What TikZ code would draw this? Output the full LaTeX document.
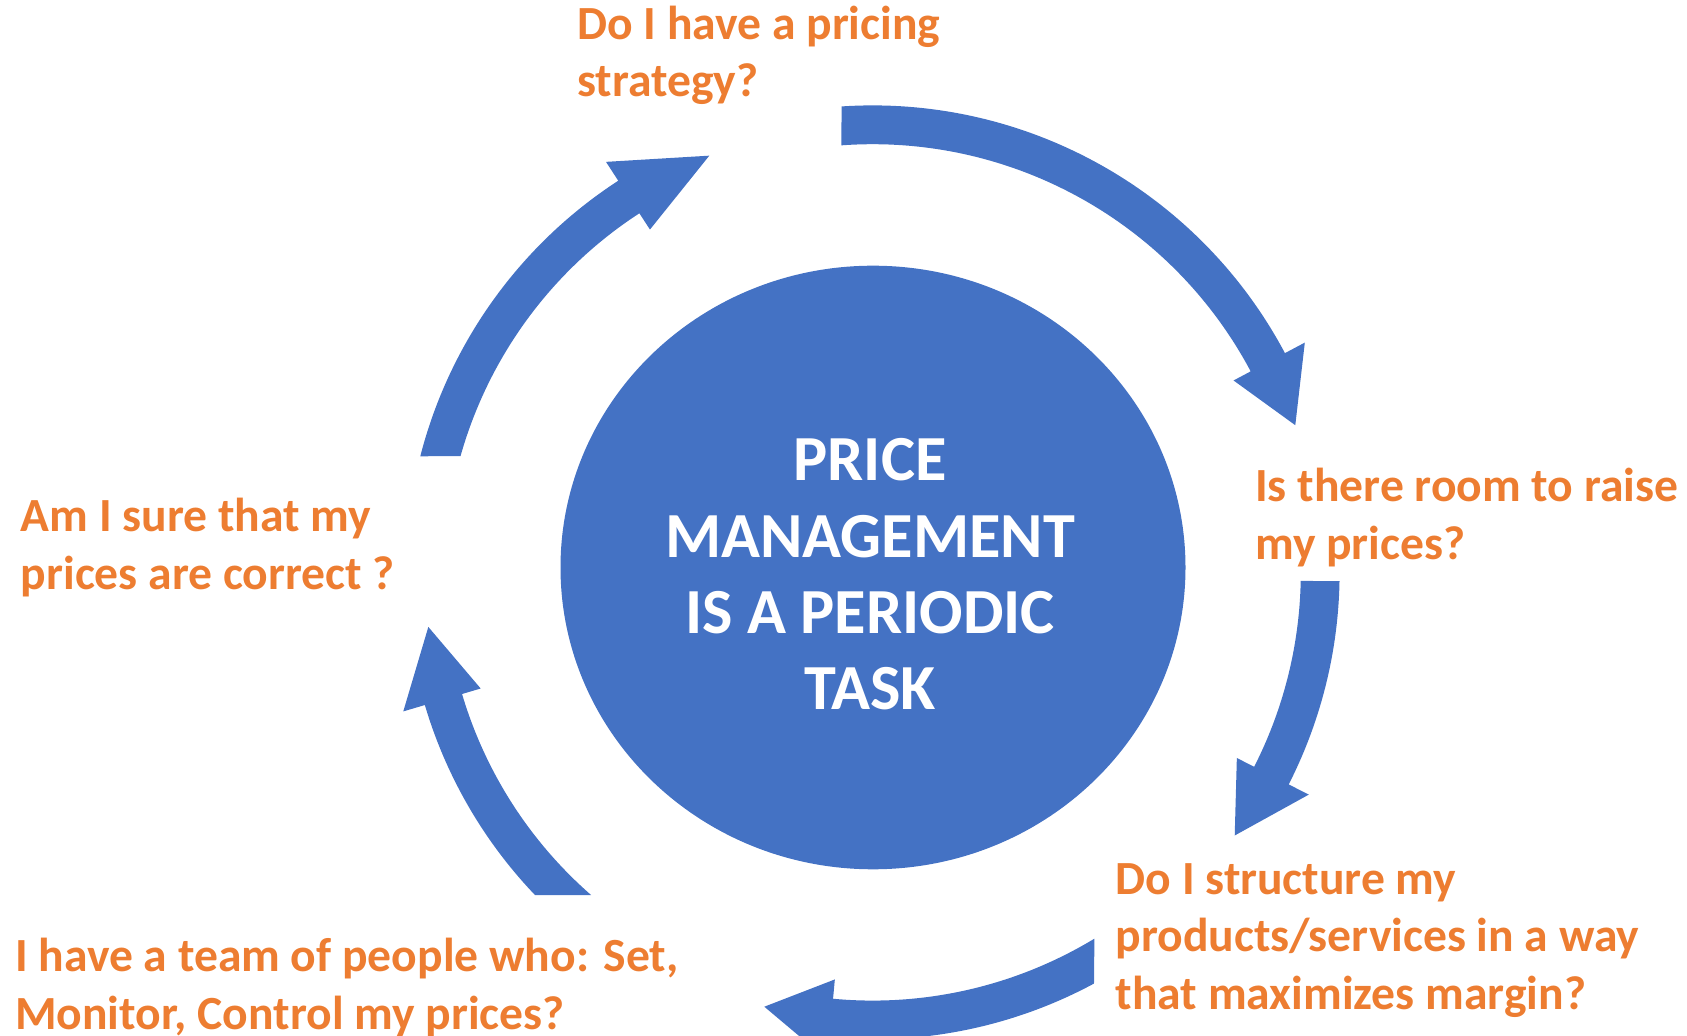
\documentclass[tikz,border=0pt]{standalone}
\usepackage{fontspec}
\setmainfont{Carlito}
\usetikzlibrary{shapes.geometric}
\definecolor{cycleblue}{HTML}{4472C4}
\definecolor{askorange}{HTML}{ED7D31}

\tikzset{
  question/.style={anchor=base west, inner sep=0pt, align=left, text=askorange,
    font=\fontsize{47.6}{57.4}\selectfont\bfseries},
  cyclearrow/.style={fill=cycleblue},
  hub/.style={ellipse, fill=cycleblue, minimum width=625pt, minimum height=603.6pt, inner sep=0pt},
  hubtext/.style={anchor=base, inner sep=0pt, align=center, text=white,
    font=\fontsize{64.3}{76.3}\selectfont\bfseries}
}

\begin{document}
\begin{tikzpicture}[x=1pt,y=1pt]
\useasboundingbox (0,0) rectangle (1687,1036);
\clip (0,0) rectangle (1687,1036);
% centre disc
\node[hub] (hub) at (873,468.5) {};
\node[hubtext] (hubtitle) at (870,326.1) {PRICE\\MANAGEMENT\\IS A PERIODIC\\TASK};
% cycle arrows: outer start / inner start / head base / tip angles
\begin{scope}[shift={(872.6,463.6)}]
\foreach \so/\si/\hb/\tp in {93.8/94.2/28/19.2, -1.06/-1.15/-27/-36, -61.7/-58.8/-95.3/-104, -136.3/-131.1/-163.5/-173, 165.6/164.25/123/111.4}
  \fill[cyclearrow] (\so:467) arc[start angle=\so, end angle=\hb, radius=467] -- (\hb:489.5) -- (\tp:447.6) -- (\hb:408.8) -- (\hb:428.2) arc[start angle=\hb, end angle=\si, radius=428.2] -- cycle;
\end{scope}
% questions round the cycle (placed by the baseline of their last line)
\node[question] (strategy) at (577,939.3) {Do I have a pricing\\strategy?};
\node[question] (room) at (1255,476.9) {Is there room to raise\\my prices?};
\node[question] (correct) at (20.7,446.9) {Am I sure that my\\prices are correct ?};
\node[question] (structure) at (1115.5,26.9) {Do I structure my\\products/services in a way\\that maximizes margin?};
\node[question] (team) at (15,6.6) {I have a team of people who: Set,\\Monitor, Control my prices?};
\end{tikzpicture}
\end{document}
